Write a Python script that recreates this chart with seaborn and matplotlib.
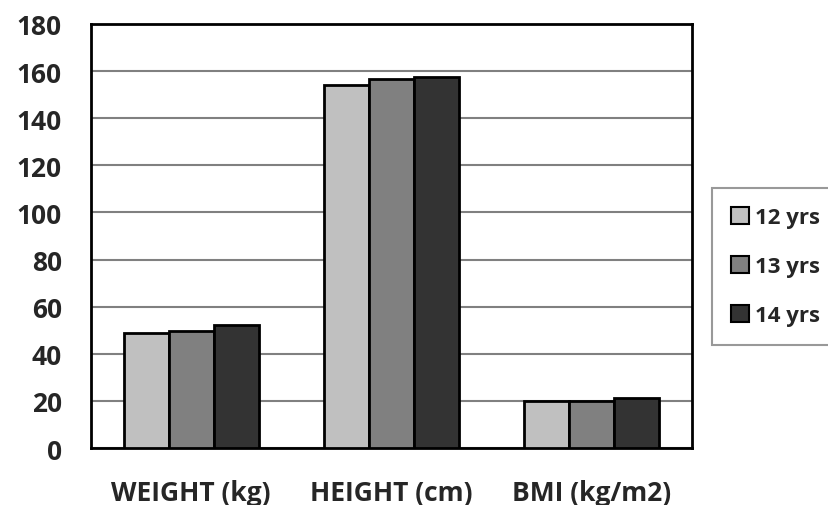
import matplotlib
matplotlib.use("Agg")
import matplotlib.pyplot as plt
import seaborn as sns
import pandas as pd
from matplotlib.ticker import FixedLocator

categories = ["WEIGHT (kg)", "HEIGHT (cm)", "BMI (kg/m2)"]
groups = ["12 yrs", "13 yrs", "14 yrs"]
values_12 = [48.8, 154.1, 20.1]
values_13 = [49.8, 156.6, 20.1]
values_14 = [52.2, 157.3, 21.1]
colors = ["#C0C0C0", "#808080", "#333333"]
y_ticks = [0, 20, 40, 60, 80, 100, 120, 140, 160, 180]

rows = []
for g, vals in zip(groups, [values_12, values_13, values_14]):
    for c, v in zip(categories, vals):
        rows.append({"category": c, "group": g, "value": v})
df = pd.DataFrame(rows)

sns.set_style("white")
FONT = ["Open Sans", "DejaVu Sans"]
plt.rcParams["font.family"] = FONT
plt.rcParams["font.weight"] = "bold"

fig = plt.figure(figsize=(8.29, 5.06), dpi=100)
ax = fig.add_axes([0.1098, 0.1126, 0.7249, 0.838])

sns.barplot(data=df, x="category", y="value", hue="group", hue_order=groups,
            palette=colors, width=0.675, gap=0, edgecolor="black", linewidth=2,
            saturation=1, ax=ax, legend=True, zorder=3)

ax.set_ylim(0, 180)
ax.set_xlim(-0.5, 2.5)
ax.set_yticks(y_ticks)
ax.set_yticklabels([str(t) for t in y_ticks], fontsize=19, fontweight="bold")
ax.set_xticklabels(categories, fontsize=19, fontweight="bold")
ax.xaxis.set_minor_locator(FixedLocator([-0.5, 0.5, 1.5, 2.5]))
ax.tick_params(axis="x", which="major", length=0, pad=22)
ax.tick_params(axis="x", which="minor", length=7, width=1.2, color="black", direction="out")
ax.tick_params(axis="y", which="major", length=7, width=1.2, color="black", direction="out", pad=14)
ax.yaxis.grid(True, color="#808080", linewidth=1.5, zorder=0)
ax.set_axisbelow(True)
ax.set_xlabel("")
ax.set_ylabel("")
for s in ax.spines.values():
    s.set_visible(True)
    s.set_color("black")
    s.set_linewidth(2)

handles, labels = ax.get_legend_handles_labels()
ax.get_legend().remove()
leg = fig.legend(handles, labels, loc="upper left", bbox_to_anchor=(712/829, 1 - 189/506),
                 frameon=True, fancybox=False, edgecolor="#808080",
                 prop={"family": FONT, "weight": "bold", "size": 16}, handlelength=0.8, handleheight=0.8,
                 handletextpad=0.3, labelspacing=1.25, borderpad=0.85, borderaxespad=0)
leg.get_frame().set_linewidth(1.5)
for h in leg.legend_handles:
    h.set_linewidth(1.5)

fig.savefig("out.png", dpi=100)
